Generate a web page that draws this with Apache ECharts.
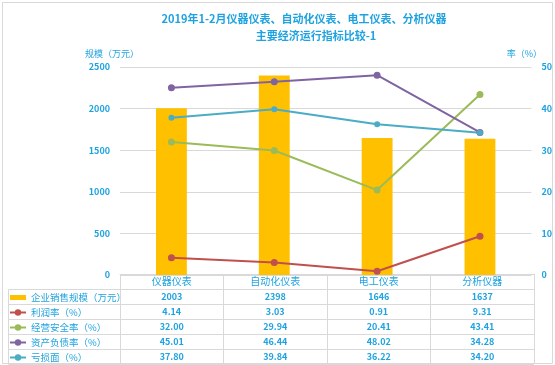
<!DOCTYPE html>
<html>
<head>
<meta charset="utf-8">
<script src="https://cdn.jsdelivr.net/npm/echarts@6/dist/echarts.min.js"></script>
<style>html,body{margin:0;padding:0;background:#fff;}#c{width:555px;height:365px;}</style>
</head>
<body>
<div id="c"></div>
<script>
const categories = ['仪器仪表', '自动化仪表', '电工仪表', '分析仪器'];
const seriesNames = ['企业销售规模（万元）', '利润率（%）', '经营安全率（%）', '资产负债率（%）', '亏损面（%）'];
const salesScale = [2003, 2398, 1646, 1637];
const profitRate = [4.14, 3.03, 0.91, 9.31];
const safetyRate = [32.00, 29.94, 20.41, 43.41];
const debtRate = [45.01, 46.44, 48.02, 34.28];
const lossRate = [37.80, 39.84, 36.22, 34.20];
const leftTicks = [0, 500, 1000, 1500, 2000, 2500];
const rightTicks = [0, 10, 20, 30, 40, 50];

const BLUE = '#1FA3E0';
const GRID = '#D9D9D9';
const FONT = '"Noto Sans CJK SC", "Noto Sans", sans-serif';
const colors = ['#FFC000', '#C0504D', '#9BBB59', '#8064A2', '#4BACC6'];

const chart = echarts.init(document.getElementById('c'));

const tableLabel = function (v, i) {
  return [
    '{h|' + v + '}',
    '{v|' + salesScale[i] + '}',
    '{v|' + profitRate[i].toFixed(2) + '}',
    '{v|' + safetyRate[i].toFixed(2) + '}',
    '{v|' + debtRate[i].toFixed(2) + '}',
    '{v|' + lossRate[i].toFixed(2) + '}'
  ].join('\n');
};

const lineSeries = function (name, data, color, size) {
  return {
    name: name, type: 'line', xAxisIndex: 0, yAxisIndex: 1, data: data,
    symbol: 'circle', symbolSize: size, z: 3,
    lineStyle: { color: color, width: 2 },
    itemStyle: { color: color }
  };
};

chart.setOption({
  backgroundColor: '#fff',
  animation: false,
  textStyle: { fontFamily: FONT },
  title: [
    {
      text: '2019年1-2月仪器仪表、自动化仪表、电工仪表、分析仪器',
      left: 304, top: 13, textAlign: 'center', padding: 0,
      textStyle: { color: BLUE, fontSize: 11, fontWeight: 'bold', fontFamily: FONT }
    },
    {
      text: '主要经济运行指标比较-1',
      left: 316, top: 30, textAlign: 'center', padding: 0,
      textStyle: { color: BLUE, fontSize: 11, fontWeight: 'bold', fontFamily: FONT }
    }
  ],
  legend: {
    orient: 'vertical', left: 9, top: 290, padding: 0,
    itemGap: 0, itemWidth: 16, itemHeight: 8,
    textStyle: { color: BLUE, fontSize: 9.5, lineHeight: 15, fontFamily: FONT },
    data: [
      { name: seriesNames[0], icon: 'path://M0,0H16V5H0Z' },
      seriesNames[1], seriesNames[2], seriesNames[3], seriesNames[4]
    ]
  },
  grid: [
    { left: 120, right: 21, top: 67, height: 208 },
    { left: 120, right: 21, top: 274, height: 90 }
  ],
  xAxis: [
    {
      type: 'category', gridIndex: 0, data: categories,
      axisLine: { show: false }, axisTick: { show: false }, axisLabel: { show: false }
    },
    {
      type: 'category', gridIndex: 1, data: categories, position: 'top',
      axisLine: { show: true, lineStyle: { color: GRID } },
      axisTick: { show: false },
      splitLine: { show: true, lineStyle: { color: GRID } },
      axisLabel: {
        inside: true, margin: 0, interval: 0, verticalAlign: 'top',
        formatter: tableLabel,
        rich: {
          h: { color: BLUE, fontSize: 10, lineHeight: 15, fontFamily: FONT },
          v: { color: BLUE, fontSize: 9, lineHeight: 15, fontWeight: 'bold', fontFamily: FONT }
        }
      }
    }
  ],
  yAxis: [
    {
      type: 'value', gridIndex: 0, min: 0, max: 2500, interval: 500,
      name: '规模（万元）', nameLocation: 'end', nameGap: 9,
      nameTextStyle: { color: BLUE, fontSize: 9, padding: [0, 16, 0, 0], fontFamily: FONT },
      axisLine: { show: false }, axisTick: { show: false },
      splitLine: { lineStyle: { color: GRID } },
      axisLabel: { color: BLUE, fontSize: 9, fontWeight: 'bold', margin: 10, fontFamily: FONT,
        formatter: function (v) { return String(v); } }
    },
    {
      type: 'value', gridIndex: 0, min: 0, max: 50, interval: 10, position: 'right',
      name: '率（%）', nameLocation: 'end', nameGap: 9,
      nameTextStyle: { color: BLUE, fontSize: 9, padding: [0, 14, 0, 0], fontFamily: FONT },
      axisLine: { show: false }, axisTick: { show: false },
      splitLine: { show: false },
      axisLabel: { color: BLUE, fontSize: 9, fontWeight: 'bold', margin: 10, fontFamily: FONT,
        formatter: function (v) { return String(v); } }
    },
    {
      type: 'value', gridIndex: 1, min: 0, max: 6, interval: 1, inverse: true,
      axisLine: { show: false }, axisTick: { show: false }, axisLabel: { show: false },
      splitLine: { show: true, lineStyle: { color: GRID } }
    }
  ],
  series: [
    {
      name: seriesNames[0], type: 'bar', xAxisIndex: 0, yAxisIndex: 0,
      data: salesScale, barWidth: '30%', z: 2,
      itemStyle: { color: colors[0] }
    },
    lineSeries(seriesNames[1], profitRate, colors[1], 7),
    lineSeries(seriesNames[2], safetyRate, colors[2], 7),
    lineSeries(seriesNames[3], debtRate, colors[3], 7),
    lineSeries(seriesNames[4], lossRate, colors[4], 6)
  ],
  graphic: [
    { type: 'rect', shape: { x: 2.5, y: 2.5, width: 550, height: 361 }, style: { fill: 'none', stroke: GRID, lineWidth: 1 }, silent: true },
    { type: 'polyline', shape: { points: [[120, 289.5], [8.5, 289.5], [8.5, 364.5], [120, 364.5]] }, style: { fill: 'none', stroke: GRID, lineWidth: 1 }, silent: true },
    { type: 'line', shape: { x1: 8.5, y1: 304.5, x2: 120, y2: 304.5 }, style: { stroke: GRID }, silent: true },
    { type: 'line', shape: { x1: 8.5, y1: 319.5, x2: 120, y2: 319.5 }, style: { stroke: GRID }, silent: true },
    { type: 'line', shape: { x1: 8.5, y1: 334.5, x2: 120, y2: 334.5 }, style: { stroke: GRID }, silent: true },
    { type: 'line', shape: { x1: 8.5, y1: 349.5, x2: 120, y2: 349.5 }, style: { stroke: GRID }, silent: true }
  ]
});
</script>
</body>
</html>
